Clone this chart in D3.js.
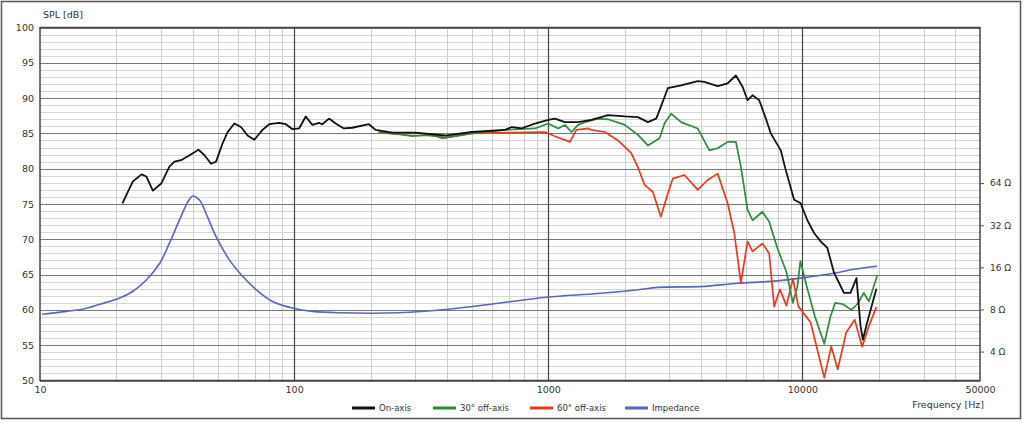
<!DOCTYPE html>
<html><head><meta charset="utf-8">
<script src="https://cdn.jsdelivr.net/npm/d3@7"></script>
<style>body{margin:0;background:#fff}svg{display:block}text{font-family:"DejaVu Sans",sans-serif;fill:#333}</style>
</head><body><svg id="c" width="1024" height="423"></svg>
<script>
// ---- data (frequency Hz, level dB) ----
const onAxis = [[21.1,75.1],[23.2,78.2],[25.1,79.2],[26.2,78.9],[27.8,76.9],[30.0,77.9],[32.3,80.3],[33.8,81.0],[35.9,81.2],[38.8,81.9],[42.0,82.7],[44.4,81.9],[47.1,80.7],[49.3,81.0],[52.3,83.6],[54.8,85.2],[58.2,86.4],[61.8,85.9],[65.6,84.7],[69.7,84.1],[75.1,85.5],[79.8,86.3],[87.3,86.5],[92.8,86.3],[98.5,85.6],[104.6,85.7],[111.1,87.4],[118,86.2],[125.3,86.5],[129,86.3],[137.2,87.1],[145.7,86.4],[157,85.7],[169.3,85.8],[196.8,86.3],[209.1,85.5],[243,85.1],[258,85.1],[300,85.1],[393,84.7],[500,85.2],[677,85.5],[718,85.9],[786,85.7],[887,86.4],[1000,86.9],[1062,87.1],[1163,86.6],[1311,86.6],[1478,86.9],[1719,87.6],[2000,87.4],[2254,87.3],[2467,86.6],[2659,87.1],[2742,88.3],[2955,91.4],[3332,91.8],[3874,92.4],[4116,92.3],[4642,91.7],[5081,92.1],[5475,93.2],[5817,91.6],[6085,89.7],[6367,90.4],[6764,89.7],[7182,87.1],[7511,85.0],[8220,82.6],[8601,79.8],[9279,75.6],[9847,75.1],[10462,72.7],[11114,70.9],[11870,69.6],[12531,68.8],[13314,65.3],[14572,62.4],[15465,62.4],[16329,64.5],[16928,57.8],[17298,55.8],[17983,58.2],[19558,63.0]];
const offAxis30 = [[215,85.2],[260,84.9],[291,84.6],[330,84.8],[393,84.4],[500,85.0],[677,85.5],[887,85.7],[1000,86.4],[1094,85.7],[1163,86.2],[1234,85.2],[1311,86.2],[1393,86.6],[1571,87.1],[1719,87.0],[2000,86.2],[2254,84.8],[2467,83.3],[2742,84.3],[2868,86.4],[3045,87.8],[3332,86.6],[3874,85.7],[4306,82.6],[4642,82.9],[5081,83.8],[5475,83.8],[5728,80.3],[6085,74.2],[6367,72.7],[6967,73.9],[7402,72.5],[7980,68.7],[8650,65.4],[9178,61.0],[9559,63.3],[9822,66.9],[10462,63.0],[11194,59.1],[12199,55.2],[12877,59.0],[13470,61.0],[14482,60.8],[15569,60.0],[16435,60.8],[17458,62.4],[18262,61.2],[19684,64.8]];
const offAxis60 = [[215,85.1],[291,84.7],[359,84.7],[381,84.3],[500,85.0],[718,85.1],[971,85.2],[1062,84.6],[1217,83.8],[1291,85.5],[1435,85.7],[1478,85.5],[1669,85.2],[1882,84.0],[2122,82.2],[2254,80.2],[2394,77.7],[2581,76.7],[2774,73.2],[2955,76.5],[3092,78.6],[3436,79.1],[3874,77.0],[4241,78.4],[4642,79.3],[5081,75.1],[5397,70.9],[5728,63.8],[6085,69.7],[6367,68.3],[6967,69.4],[7402,68.0],[7745,60.5],[8161,62.9],[8657,60.6],[9178,64.4],[9645,60.5],[10777,58.2],[11630,53.4],[12199,50.4],[12993,54.8],[13775,51.6],[14878,56.8],[16066,58.6],[17189,54.8],[18262,57.7],[19558,60.4]];
// impedance (frequency Hz, ohms)
const impedance = [[10.2,7.4],[12.7,7.75],[14.8,8.06],[17.2,8.72],[20.6,9.65],[23.2,10.8],[26.2,13.0],[29.6,17.1],[32.3,23.8],[35.4,34.9],[38.2,47.1],[39.9,51.7],[42.4,48.4],[45.0,38.9],[49.3,26.5],[55.6,18.1],[62.7,13.8],[70.8,11.1],[82.2,9.13],[98.5,8.19],[118,7.75],[150,7.58],[258,7.58],[405,8.03],[637,8.86],[982,9.78],[1571,10.4],[2254,11.06],[2700,11.5],[4116,11.7],[5559,12.3],[7511,12.7],[9847,13.4],[13314,14.5],[15947,15.5],[19684,16.3]];

const splTicks = [50,55,60,65,70,75,80,85,90,95,100];
const freqTicks = [10,100,1000,10000,50000];
const freqTickLabels = ["10","100","1000","10000","50000"];
const impTicks = [4,8,16,32,64];
const impTickLabels = ["4 Ω","8 Ω","16 Ω","32 Ω","64 Ω"];
const seriesNames = ["On-axis","30° off-axis","60° off-axis","Impedance"];
const seriesColors = ["#111111","#2e8b3c","#f0361c","#5866c0"];

// ---- layout ----
const L=40, R=980, T=27.5, B=380.5;
const svg = d3.select("#c");
const x = d3.scaleLog().domain([10,50000]).range([L,R]);
const y = d3.scaleLinear().domain([50,100]).range([B,T]);
const yImp = d3.scaleLog().base(2).domain([2.486,827.6]).range([B,T]);

svg.append("rect").attr("x",1.5).attr("y",1.5).attr("width",1019).attr("height",417)
  .attr("fill","#fff").attr("stroke","#555").attr("stroke-width",1.5);

const g = svg.append("g");
// minor horizontal grid (1 dB)
const minorDb = d3.range(51,100).filter(v=>v%5!==0);
g.selectAll(".hm").data(minorDb).join("line")
  .attr("x1",L).attr("x2",R).attr("y1",d=>Math.round(y(d))+0.5).attr("y2",d=>Math.round(y(d))+0.5)
  .attr("stroke","#d6d6d6").attr("stroke-width",1);
// minor vertical grid
const minorF=[];
[10,100,1000,10000].forEach(dec=>{for(let m=2;m<=9;m++){const f=dec*m; if(f<50000) minorF.push(f);}});
g.selectAll(".vm").data(minorF).join("line")
  .attr("y1",T).attr("y2",B).attr("x1",d=>Math.round(x(d))+0.5).attr("x2",d=>Math.round(x(d))+0.5)
  .attr("stroke","#cfcfcf").attr("stroke-width",1);
// major horizontal
g.selectAll(".hM").data(splTicks).join("line")
  .attr("x1",L).attr("x2",R).attr("y1",d=>Math.round(y(d))+0.5).attr("y2",d=>Math.round(y(d))+0.5)
  .attr("stroke","#777").attr("stroke-width",1.2);
// decade lines
g.selectAll(".vM").data([100,1000,10000]).join("line")
  .attr("y1",T).attr("y2",B).attr("x1",d=>Math.round(x(d))+0.5).attr("x2",d=>Math.round(x(d))+0.5)
  .attr("stroke","#444").attr("stroke-width",1.2);
// frame
g.append("rect").attr("x",L).attr("y",T).attr("width",R-L).attr("height",B-T)
  .attr("fill","none").attr("stroke","#444").attr("stroke-width",1.5);

// axes
const leftAxis = d3.axisLeft(y).tickValues(splTicks).tickSize(0).tickPadding(6);
const la = svg.append("g").attr("transform",`translate(${L},0)`).call(leftAxis);
la.select(".domain").remove();
la.selectAll("text").style("font-size","9.5px").attr("fill","#333").style("font-family","DejaVu Sans");

const bottomAxis = d3.axisBottom(x).tickValues(freqTicks).tickFormat((d,i)=>freqTickLabels[i]).tickSize(0).tickPadding(6);
const ba = svg.append("g").attr("transform",`translate(0,${B})`).call(bottomAxis);
ba.select(".domain").remove();
ba.selectAll("text").style("font-size","9.5px").attr("fill","#333").style("font-family","DejaVu Sans");

const rightAxis = d3.axisRight(yImp).tickValues(impTicks).tickFormat((d,i)=>impTickLabels[i]).tickSize(4).tickPadding(6);
const ra = svg.append("g").attr("transform",`translate(${R},0)`).call(rightAxis);
ra.select(".domain").remove();
ra.selectAll("line").attr("stroke","#555");
ra.selectAll("text").style("font-size","9px").attr("fill","#333").style("font-family","DejaVu Sans");

svg.append("text").attr("x",43).attr("y",18).style("font-size","9.5px").text("SPL [dB]");
svg.append("text").attr("x",984).attr("y",408).attr("text-anchor","end").style("font-size","9.5px").text("Frequency [Hz]");

// curves
const splLine = d3.line().x(d=>x(d[0])).y(d=>y(d[1]));
const impLine = d3.line().x(d=>x(d[0])).y(d=>yImp(d[1])).curve(d3.curveCatmullRom);
const plot = svg.append("g");
plot.append("path").datum(impedance).attr("d",impLine).attr("fill","none").attr("stroke",seriesColors[3]).attr("stroke-width",1.6);
plot.append("path").datum(offAxis60).attr("d",splLine).attr("fill","none").attr("stroke",seriesColors[2]).attr("stroke-width",1.7).attr("stroke-linejoin","round");
plot.append("path").datum(offAxis30).attr("d",splLine).attr("fill","none").attr("stroke",seriesColors[1]).attr("stroke-width",1.7).attr("stroke-linejoin","round");
plot.append("path").datum(onAxis).attr("d",splLine).attr("fill","none").attr("stroke",seriesColors[0]).attr("stroke-width",1.8).attr("stroke-linejoin","round");

// legend
const legX = [352,433,530,625];
const leg = svg.append("g");
seriesNames.forEach((n,i)=>{
  leg.append("line").attr("x1",legX[i]).attr("x2",legX[i]+23).attr("y1",408).attr("y2",408)
    .attr("stroke",seriesColors[i]).attr("stroke-width",3);
  leg.append("text").attr("x",legX[i]+27).attr("y",411).style("font-size","8.5px").text(n);
});
</script></body></html>
